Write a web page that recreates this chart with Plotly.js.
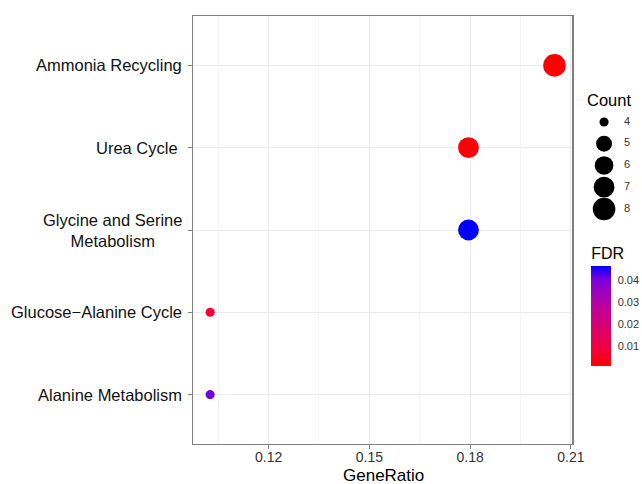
<!DOCTYPE html>
<html>
<head>
<meta charset="utf-8">
<script src="https://cdn.plot.ly/plotly-3.0.1.min.js"></script>
<style>html,body{margin:0;padding:0;background:#fff;}#chart{width:642px;height:484px;}</style>
</head>
<body>
<div id="chart"></div>
<script>
// Data (top to bottom in the chart)
var pathways = ["Ammonia Recycling", "Urea Cycle ", "Glycine and Serine Metabolism", "Glucose\u2212Alanine Cycle", "Alanine Metabolism"];
var pathwayLabels = ["Ammonia Recycling", "Urea Cycle\u00a0", "Glycine and Serine<br>Metabolism", "Glucose\u2212Alanine Cycle", "Alanine Metabolism"];
var geneRatio = [0.2051, 0.1795, 0.1795, 0.1026, 0.1026];
var counts = [8, 7, 7, 4, 4];
var fdr = [0.0008, 0.0015, 0.0465, 0.0075, 0.0410];
var countLegend = [4, 5, 6, 7, 8];
var fdrTicks = [0.01, 0.02, 0.03, 0.04];
var xTicks = [0.12, 0.15, 0.18, 0.21];

// size scale (area-like, as ggplot scale_size)
var cMin = Math.min.apply(null, counts), cMax = Math.max.apply(null, counts);
function sizeScale(c) {
  var s = 1 + 5 * Math.sqrt((c - cMin) / (cMax - cMin));
  return 6.4 + 2.7 * s;
}

var colorscale = [
  [0, 'rgb(255,0,0)'], [0.125, 'rgb(244,0,49)'], [0.25, 'rgb(232,0,80)'],
  [0.375, 'rgb(218,0,108)'], [0.5, 'rgb(202,0,137)'], [0.625, 'rgb(181,0,165)'],
  [0.75, 'rgb(154,0,194)'], [0.875, 'rgb(115,0,224)'], [1, 'rgb(0,0,255)']
];

var FONT = 'Liberation Sans, Arial, sans-serif';
var W = 642, H = 484, L = 193, R = 2, T = 16, B = 40;
var pw = W - L - R, ph = H - T - B;
function px2x(p) { return (p - L) / pw; }
function px2y(p) { return (H - B - p) / ph; }

var main = {
  type: 'scatter', mode: 'markers',
  x: geneRatio, y: pathways,
  marker: {
    size: counts.map(sizeScale),
    color: fdr,
    colorscale: colorscale,
    showscale: true,
    line: {width: 0},
    opacity: 1,
    colorbar: {
      title: {text: 'FDR', side: 'top', font: {family: FONT, size: 16, color: '#000'}},
      x: px2x(593), xanchor: 'left', xref: 'paper',
      y: px2y(305), yanchor: 'middle', yref: 'paper',
      len: 122, lenmode: 'pixels',
      thickness: 20, thicknessmode: 'pixels',
      xpad: 0, ypad: 0,
      outlinewidth: 0,
      tickmode: 'array', tickvals: fdrTicks, ticktext: fdrTicks.map(function(v){return v.toFixed(2);}),
      ticks: 'outside', ticklen: 5, tickcolor: 'rgba(255,255,255,0)', tickwidth: 1,
      tickfont: {family: FONT, size: 11, color: '#333'}
    }
  },
  showlegend: false, hoverinfo: 'x+y'
};

var sizeLeg = {
  type: 'scatter', mode: 'markers',
  x: countLegend.map(function(){return 0.38;}), y: countLegend,
  xaxis: 'x2', yaxis: 'y2', opacity: 1,
  marker: {size: countLegend.map(sizeScale), color: 'rgb(0,0,0)', opacity: 1, line: {width: 0}},
  showlegend: false, hoverinfo: 'skip'
};
var sizeLegText = {
  type: 'scatter', mode: 'text',
  x: countLegend.map(function(){return 0.8;}), y: countLegend,
  xaxis: 'x2', yaxis: 'y2',
  text: countLegend.map(String), textposition: 'middle center',
  textfont: {family: FONT, size: 11, color: '#333'},
  showlegend: false, hoverinfo: 'skip'
};

var annotations = pathways.map(function(p, i) {
  return {
    xref: 'paper', yref: 'y', x: 0, y: p, xanchor: 'right', yanchor: 'middle',
    xshift: -9, align: 'center', showarrow: false, text: pathwayLabels[i],
    font: {family: FONT, size: 16.5, color: '#111'}
  };
});
annotations.push({
  xref: 'paper', yref: 'paper', x: px2x(587), y: px2y(100), xanchor: 'left', yanchor: 'middle',
  showarrow: false, text: 'Count',
  font: {family: FONT, size: 16.5, color: '#000'}
});
annotations.push({
  xref: 'paper', yref: 'paper', x: px2x(384), y: px2y(475), xanchor: 'center', yanchor: 'middle',
  showarrow: false, text: 'GeneRatio',
  font: {family: FONT, size: 17, color: '#000'}
});

var layout = {
  width: W, height: H,
  margin: {l: L, r: R, t: T, b: B, pad: 0},
  paper_bgcolor: '#fff', plot_bgcolor: '#fff',
  font: {family: FONT},
  xaxis: {
    domain: [0, 381 / pw],
    range: [0.0975, 0.2104],
    tickmode: 'array', tickvals: xTicks,
    ticktext: xTicks.map(function(v){return v.toFixed(2);}),
    ticks: 'outside', ticklen: 4, tickcolor: '#7f7f7f', tickwidth: 1,
    ticklabelstandoff: -4,
    tickfont: {size: 14, color: '#333'},
    showgrid: true, gridcolor: '#ebebeb', gridwidth: 1,
    minor: {tickmode: 'array', tickvals: [0.105, 0.135, 0.165, 0.195], showgrid: true, gridcolor: '#f4f4f4', gridwidth: 1, ticks: ''},
    zeroline: false,
    showline: true, linecolor: '#7f7f7f', linewidth: 1.3, mirror: true
  },
  yaxis: {
    type: 'category',
    categoryorder: 'array', categoryarray: pathways.slice().reverse(),
    range: [-0.6, 4.6],
    showticklabels: false,
    ticks: 'outside', ticklen: 4, tickcolor: '#7f7f7f', tickwidth: 1,
    showgrid: true, gridcolor: '#ebebeb', gridwidth: 1,
    zeroline: false,
    showline: true, linecolor: '#7f7f7f', linewidth: 1.3, mirror: true
  },
  xaxis2: {
    domain: [px2x(585), 1], range: [0, 1], anchor: 'y2',
    visible: false, fixedrange: true
  },
  yaxis2: {
    domain: [px2y(222), px2y(110)], range: [8.6, 3.45], anchor: 'x2',
    visible: false, fixedrange: true
  },
  annotations: annotations,
  showlegend: false
};

Plotly.newPlot('chart', [main, sizeLeg, sizeLegText], layout, {displayModeBar: false, staticPlot: true});
</script>
</body>
</html>
